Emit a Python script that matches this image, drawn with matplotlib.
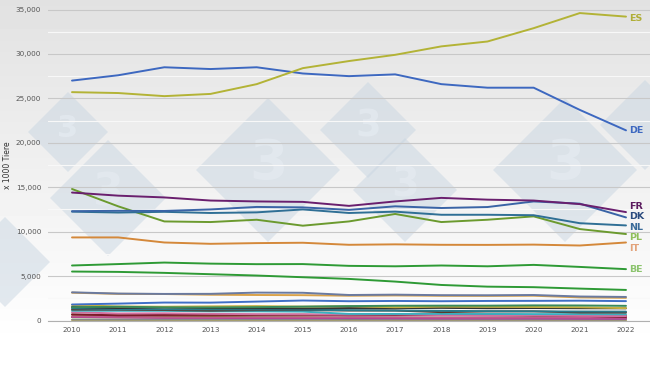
import numpy as np
import matplotlib
matplotlib.use("Agg")
import matplotlib.pyplot as plt
from matplotlib.patches import Polygon
from matplotlib.ticker import FuncFormatter, MultipleLocator

# pig population, x 1000 head
years = list(range(2010, 2023))

es = [25700, 25600, 25250, 25500, 26600, 28400, 29200, 29900, 30850, 31400, 32900, 34600, 34200]
de = [27000, 27600, 28500, 28300, 28500, 27800, 27500, 27700, 26600, 26200, 26200, 23700, 21400]
fr = [14400, 14050, 13850, 13500, 13400, 13350, 12900, 13400, 13800, 13600, 13500, 13100, 12200]
dk = [12300, 12350, 12330, 12500, 12780, 12730, 12450, 12850, 12660, 12770, 13400, 13150, 11600]
nl = [12250, 12150, 12230, 12100, 12170, 12500, 12100, 12250, 11900, 11900, 11850, 10950, 10700]
pl = [14800, 12850, 11150, 11080, 11340, 10670, 11150, 11990, 11080, 11340, 11720, 10290, 9730]
it = [9350, 9350, 8780, 8630, 8710, 8750, 8520, 8570, 8520, 8510, 8540, 8440, 8780]
be = [6190, 6350, 6520, 6400, 6340, 6350, 6150, 6100, 6190, 6100, 6260, 6030, 5780]
ro = [5510, 5470, 5360, 5210, 5060, 4870, 4680, 4380, 4000, 3810, 3750, 3590, 3440]
hu = [3170, 3030, 2990, 3000, 3140, 3120, 2870, 2910, 2850, 2840, 2870, 2700, 2650]
at = [3130, 3000, 2980, 2900, 2870, 2850, 2790, 2820, 2780, 2770, 2790, 2600, 2550]
pt = [1800, 1900, 2020, 2010, 2130, 2250, 2170, 2200, 2170, 2200, 2210, 2230, 2180]
ie = [1500, 1550, 1480, 1470, 1500, 1560, 1620, 1660, 1670, 1670, 1700, 1690, 1650]
cz = [1750, 1580, 1550, 1590, 1620, 1560, 1610, 1490, 1560, 1540, 1520, 1490, 1390]
se = [1520, 1400, 1470, 1400, 1380, 1360, 1400, 1380, 1420, 1380, 1400, 1380, 1370]
fi = [1370, 1290, 1260, 1250, 1240, 1220, 1160, 1120, 1090, 1050, 1030, 1010, 1000]
hr = [1230, 1230, 1180, 1110, 1160, 1170, 1120, 1120, 940, 1020, 1030, 900, 890]
gr = [1100, 1090, 1090, 1030, 1030, 1000, 740, 740, 750, 740, 720, 720, 700]
lt = [930, 790, 810, 750, 710, 690, 660, 690, 610, 550, 580, 520, 500]
sk = [690, 580, 630, 640, 640, 660, 600, 610, 630, 600, 560, 530, 400]
bg = [660, 610, 560, 530, 600, 580, 600, 610, 620, 670, 600, 560, 550]
cy = [460, 410, 370, 350, 350, 350, 360, 350, 340, 320, 330, 340, 330]
si = [400, 350, 300, 290, 270, 270, 260, 250, 230, 230, 230, 210, 200]
lv = [390, 370, 350, 370, 350, 330, 330, 320, 310, 310, 320, 310, 300]
ee = [370, 370, 375, 360, 350, 300, 260, 290, 300, 310, 300, 300, 290]
lu = [90, 88, 90, 94, 95, 92, 90, 88, 85, 82, 80, 78, 75]
mt = [60, 55, 50, 47, 46, 44, 43, 42, 40, 39, 38, 37, 35]

# series, line colour, label (None = unlabelled), label colour, label shift in points
series = [
    (mt, "#d8c23a", None, None, 0), (lu, "#888888", None, None, 0),
    (ee, "#4aa02a", None, None, 0), (lv, "#7a8a3a", None, None, 0),
    (si, "#b03a9a", None, None, 0), (cy, "#c05a8a", None, None, 0),
    (bg, "#8a5a3a", None, None, 0), (sk, "#7a1a2a", None, None, 0),
    (lt, "#d070a0", None, None, 0), (gr, "#3ab0c0", None, None, 0),
    (hr, "#5a3a2a", None, None, 0), (fi, "#2a7a8a", None, None, 0),
    (se, "#333333", None, None, 0), (cz, "#c8b040", None, None, 0),
    (ie, "#3a8a5a", None, None, 0), (pt, "#3f6fc6", None, None, 0),
    (at, "#d9a24a", None, None, 0), (hu, "#6a7aa0", None, None, 0),
    (ro, "#2e9a35", None, None, 0),
    (be, "#2e9a35", "BE", "#8cc46e", 0),
    (it, "#d4883a", "IT", "#e2a27a", -4),
    (pl, "#6b9a2e", "PL", "#8fbf5a", -2.5),
    (nl, "#2f6f95", "NL", "#3a6b99", -1.5),
    (dk, "#3a64a6", "DK", "#2b4b7e", 0.8),
    (fr, "#6a1f6e", "FR", "#5a1a5e", 4.3),
    (de, "#3d68c0", "DE", "#3d68c0", 0),
    (es, "#b3b336", "ES", "#b0ae36", -1),
]

W, H = 650, 366
fig = plt.figure(figsize=(W / 100, H / 100), dpi=100)

# background gradient + logo watermark
bga = fig.add_axes([0, 0, 1, 1], zorder=0)
bga.set_xlim(0, W)
bga.set_ylim(H, 0)
bga.axis("off")
grad = np.linspace(0.885, 1.0, 345)[:, None] * np.ones((1, 2))
bga.imshow(grad, cmap="gray", vmin=0, vmax=1, extent=[0, W, 345, 0], aspect="auto")
bga.add_patch(plt.Rectangle((0, 345), W, H - 345, color="white"))

# (centre x, centre y, half diagonal, draw the "3")
marks = [(68, 132, 40, True), (108, 198, 58, True), (268, 170, 72, True),
         (368, 130, 48, True), (405, 190, 52, True), (565, 170, 72, True),
         (645, 125, 45, False), (5, 262, 45, False)]
for cx, cy_, h, num in marks:
    bga.add_patch(Polygon([(cx - h, cy_), (cx, cy_ - h), (cx + h, cy_), (cx, cy_ + h)],
                          closed=True, color="#c9d6e2", alpha=0.5, lw=0))
    if num:
        bga.text(cx, cy_ - h * 0.08, "3", ha="center", va="center", color="#e4eaf0",
                 fontsize=h * 0.55, fontweight="bold", alpha=0.8)

ax = fig.add_axes([48 / W, 1 - 320.5 / H, 1 - 48 / W, 320.5 / H], zorder=1)
ax.patch.set_alpha(0)
ax.set_xlim(2009.48, 2022.52)
ax.set_ylim(0, 36070)

ax.yaxis.set_major_locator(MultipleLocator(5000))
ax.yaxis.set_minor_locator(MultipleLocator(2500))
ax.grid(axis="y", which="major", color="#c8c8c8", lw=0.8)
ax.grid(axis="y", which="minor", color="#f8f8f8", lw=0.8)
ax.set_axisbelow(True)

for vals, col, lab, lcol, dy in series:
    ax.plot(years, vals, color=col, lw=1.4, solid_capstyle="round")
    if lab:
        ax.annotate(lab, (years[-1], vals[-1]), xytext=(2, dy), textcoords="offset points",
                    ha="left", va="center", color=lcol, fontsize=6.8, fontweight="bold")

for s in ["top", "right", "left"]:
    ax.spines[s].set_visible(False)
ax.spines["bottom"].set_color("#b0b0b0")
ax.spines["bottom"].set_linewidth(0.8)

ax.set_xticks(years)
ax.tick_params(axis="both", which="both", length=0, labelsize=5.2, labelcolor="#555555")
ax.tick_params(axis="x", pad=5)
ax.tick_params(axis="y", pad=5)
ax.yaxis.set_major_formatter(FuncFormatter(lambda v, p: f"{int(v):,}"))

fig.text(8 / W, 1 - 165 / H, "x 1000 Tiere", rotation=90, ha="center", va="center",
         fontsize=5.5, color="#333333")

fig.savefig("out.png", dpi=100)
